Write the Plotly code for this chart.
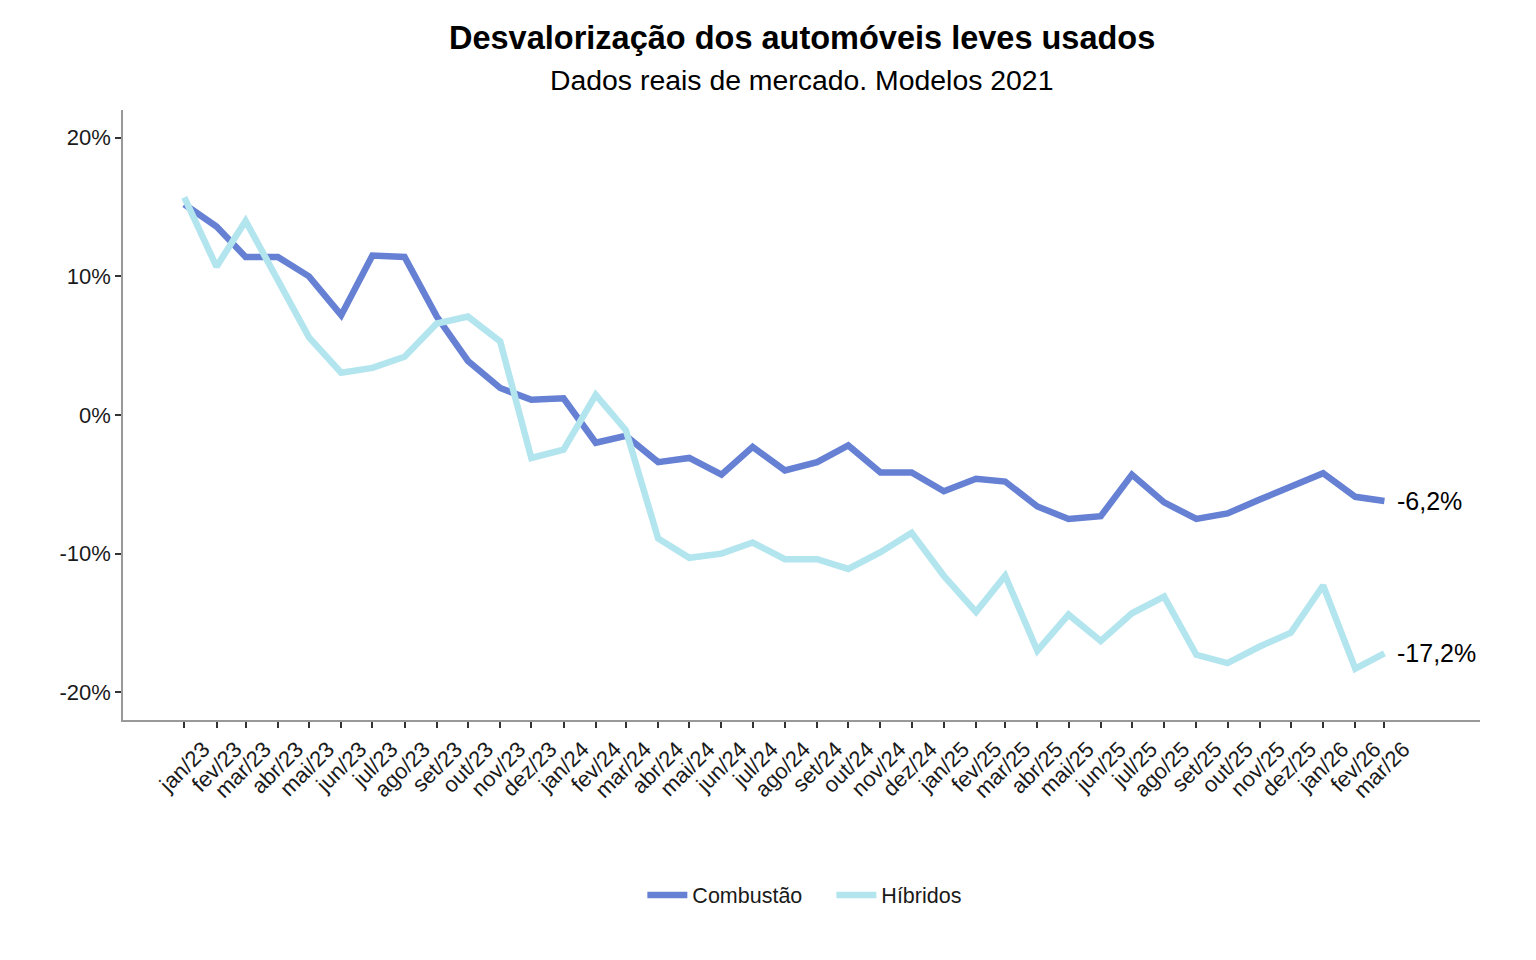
import plotly.graph_objects as go
import pandas as pd

month_labels = ["jan/23", "fev/23", "mar/23", "abr/23", "mai/23", "jun/23", "jul/23", "ago/23", "set/23", "out/23", "nov/23", "dez/23",
                "jan/24", "fev/24", "mar/24", "abr/24", "mai/24", "jun/24", "jul/24", "ago/24", "set/24", "out/24", "nov/24", "dez/24",
                "jan/25", "fev/25", "mar/25", "abr/25", "mai/25", "jun/25", "jul/25", "ago/25", "set/25", "out/25", "nov/25", "dez/25",
                "jan/26", "fev/26", "mar/26"]
dates = list(pd.date_range("2023-01-01", periods=len(month_labels), freq="MS"))

combustao = [15.2, 13.6, 11.4, 11.4, 10.0, 7.2, 11.5, 11.4, 7.1, 3.9, 1.95, 1.1,
             1.2, -2.0, -1.5, -3.4, -3.1, -4.3, -2.3, -4.0, -3.4, -2.2, -4.15, -4.15,
             -5.5, -4.6, -4.8, -6.6, -7.5, -7.3, -4.3, -6.3, -7.5, -7.1, -6.1, -5.2,
             -4.2, -5.9, -6.2]
hibridos = [15.7, 10.7, 14.0, 9.7, 5.6, 3.05, 3.4, 4.2, 6.6, 7.1, 5.3, -3.1,
            -2.5, 1.45, -1.1, -8.9, -10.3, -10.0, -9.2, -10.4, -10.4, -11.1, -9.9, -8.5,
            -11.6, -14.2, -11.6, -17.0, -14.4, -16.3, -14.3, -13.1, -17.3, -17.9, -16.7, -15.7,
            -12.3, -18.3, -17.2]

y_ticks = [20, 10, 0, -10, -20]
y_tick_labels = ["20%", "10%", "0%", "-10%", "-20%"]

series_names = ["Combustão", "Híbridos"]
colors = ["#6680D4", "#B3E5EF"]

font_family = "Liberation Sans, Arial, sans-serif"

fig = go.Figure()
for name, vals, col in zip(series_names, [combustao, hibridos], colors):
    fig.add_trace(go.Scatter(x=dates, y=vals, mode="lines", name=name,
                             line=dict(color=col, width=6.5)))

for vals, col in zip([combustao, hibridos], colors):
    txt = f"{vals[-1]:.1f}".replace(".", ",") + "%"
    fig.add_annotation(x=dates[-1], y=vals[-1], text=txt, showarrow=False,
                       xanchor="left", yanchor="middle", xshift=11,
                       font=dict(family=font_family, size=25, color="#000000"))

fig.add_annotation(text="<b>Desvalorização dos automóveis leves usados</b>", xref="paper", yref="paper",
                   x=0.5, y=1.118, showarrow=False, xanchor="center", yanchor="middle",
                   font=dict(family=font_family, size=32.5, color="#000000"))
fig.add_annotation(text="Dados reais de mercado. Modelos 2021", xref="paper", yref="paper",
                   x=0.5, y=1.049, showarrow=False, xanchor="center", yanchor="middle",
                   font=dict(family=font_family, size=28.4, color="#000000"))

fig.update_layout(
    width=1536, height=960,
    margin=dict(l=115, r=64, t=102, b=248),
    paper_bgcolor="white", plot_bgcolor="white",
    font=dict(family=font_family, size=22, color="#1a1a1a"),
    showlegend=True,
    legend=dict(orientation="h", x=0.522, xanchor="center", y=-0.287, yanchor="middle",
                font=dict(family=font_family, size=21.5, color="#1a1a1a"), itemwidth=40,
                entrywidth=134),
)
fig.update_xaxes(
    type="date", range=["2022-11-03", "2026-06-01"],
    tickvals=dates, ticktext=month_labels, tickangle=-45, ticklabelshift=19,
    showgrid=False, zeroline=False,
    showline=True, linecolor="#999999", linewidth=1.5,
    ticks="outside", ticklen=6, tickwidth=1.5, tickcolor="#333333",
    tickfont=dict(family=font_family, size=22, color="#1a1a1a"),
)
fig.update_yaxes(
    range=[-22, 22], tickvals=y_ticks, ticktext=y_tick_labels,
    showgrid=False, zeroline=False,
    showline=True, linecolor="#999999", linewidth=1.5,
    ticks="outside", ticklen=6, tickwidth=1.5, tickcolor="#333333",
    tickfont=dict(family=font_family, size=22, color="#1a1a1a"),
)

fig.write_html("out.html")
